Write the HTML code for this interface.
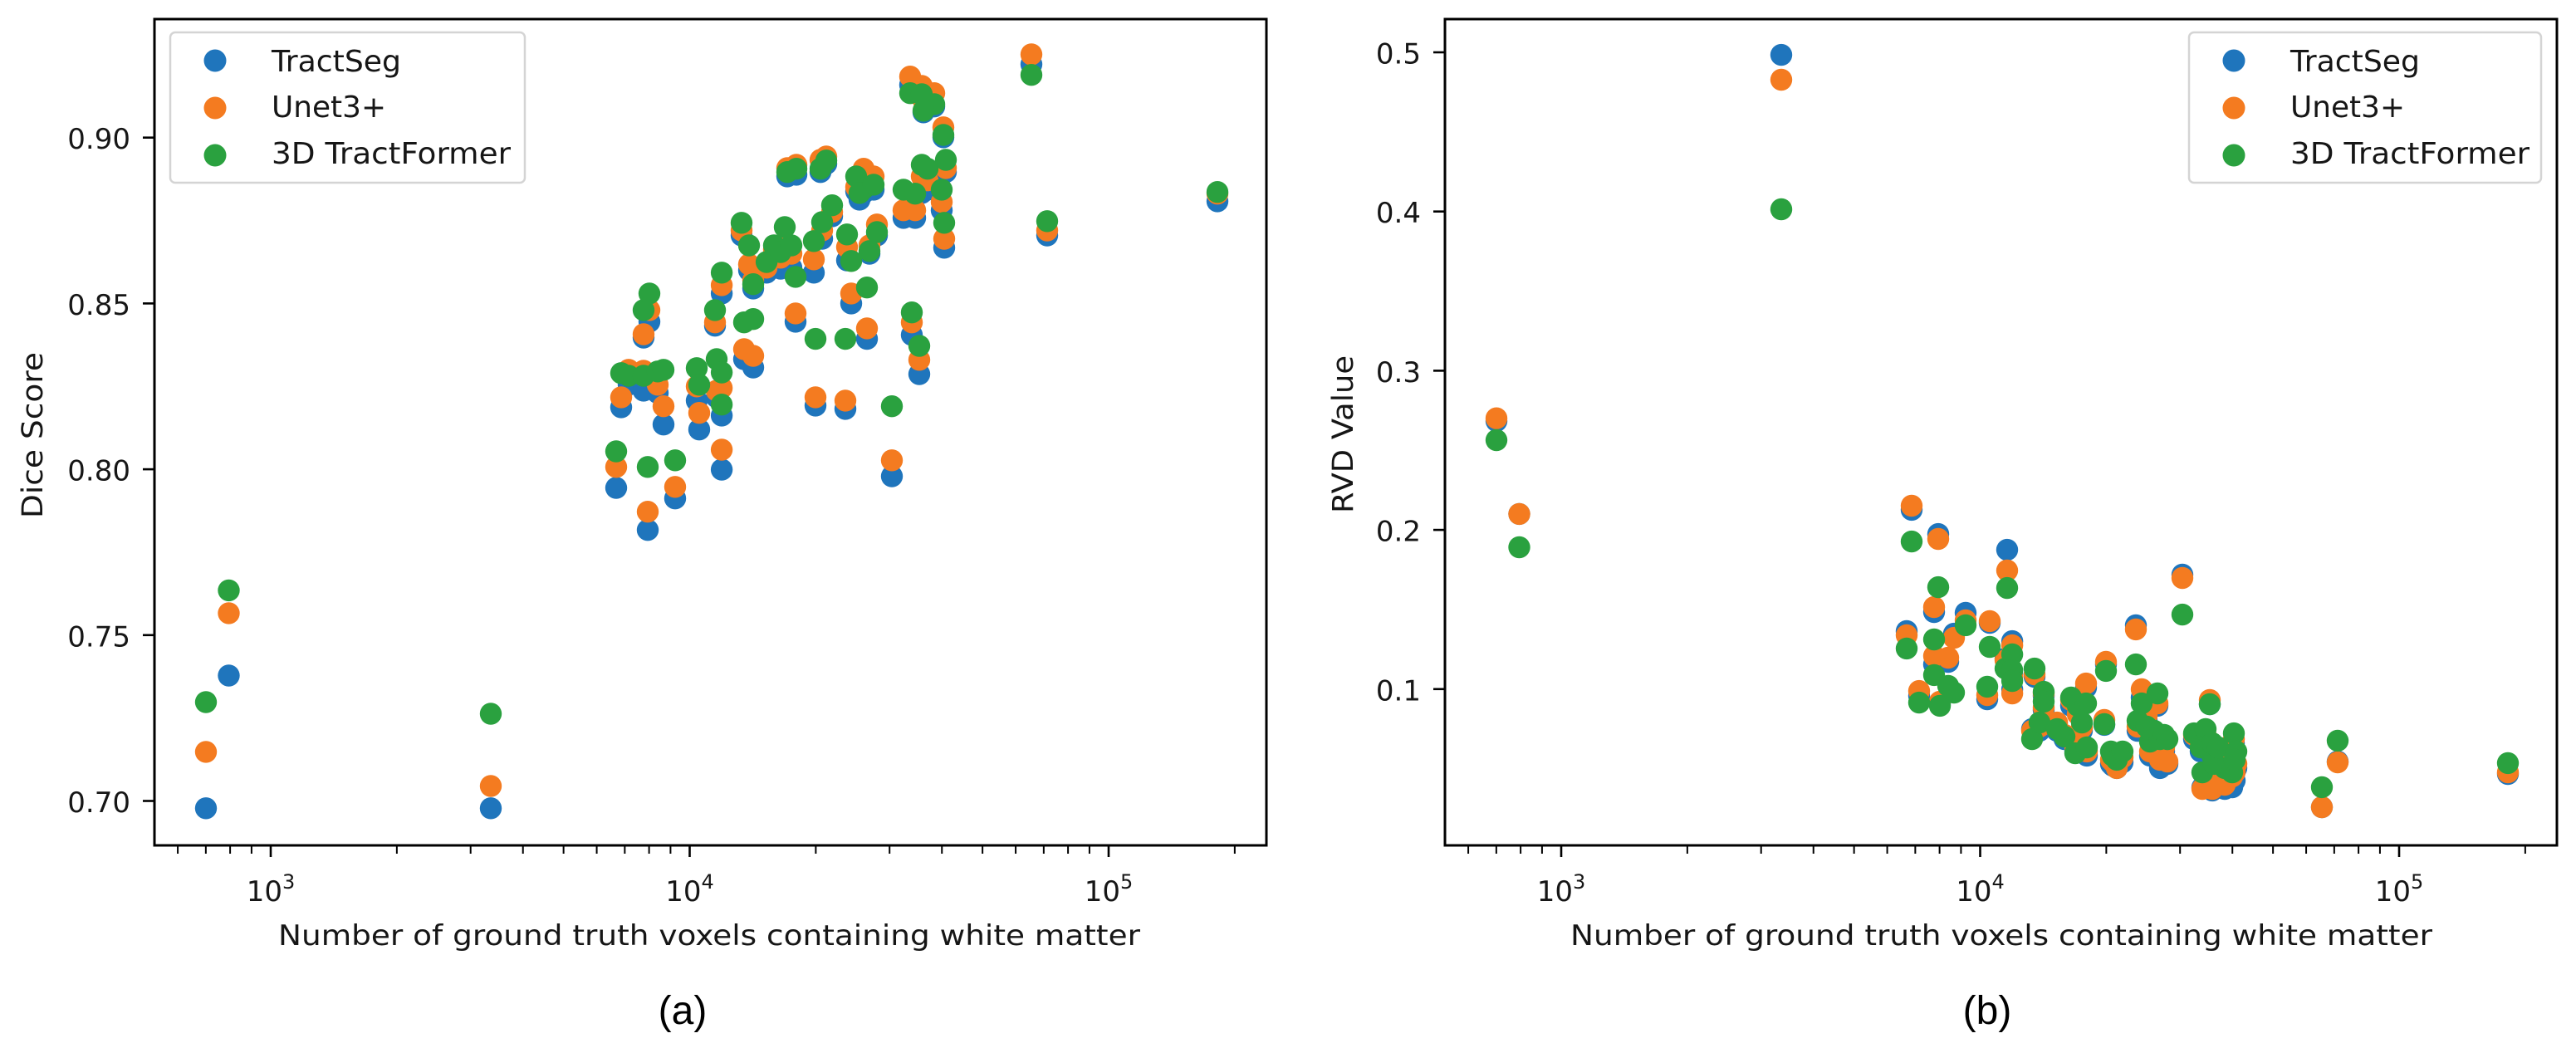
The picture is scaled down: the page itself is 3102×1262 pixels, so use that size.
<!DOCTYPE html>
<html lang="en">
<head>
<meta charset="utf-8">
<title>Dice Score and RVD Value against ground truth voxels</title>
<style>
html,body{margin:0;padding:0;background:#fff;}
svg{display:block;}
text{font-family:"DejaVu Sans","Liberation Sans",sans-serif;fill:#161616;}
.caption{font-family:"Liberation Sans",sans-serif;font-size:48px;fill:#000;}
</style>
</head>
<body>
<svg id="figure" xmlns="http://www.w3.org/2000/svg" width="3102" height="1262" viewBox="0 0 3102 1262">
  <rect x="0" y="0" width="3102" height="1262" fill="#ffffff"/>
  <g id="panel-a"></g>
  <g id="panel-b"></g>
  <text class="caption" x="822" y="1233" text-anchor="middle">(a)</text>
  <text class="caption" x="2393" y="1233" text-anchor="middle">(b)</text>
</svg>
<script>
const voxels = [700.6,794,3352,6677,6863,7151,7762,7942,8388,8661,9233,10397,10539,11600,11495,11924,11924,11924,13303,13860,14180,13484,14180,15257,15893,16482,16866,17098,17977,17894,17490,19785,19967,20521,20712,21190,21878,23534,23751,24298,24973,26020,25429,26499,26860,27484,27990,30388,32384,34530,33900,35320,33590,35810,38350,36140,40320,35810,36980,40880,39960,40500,65420,71340,181800,7762,8015];

const diceTractSeg = [.6978,.7378,.6978,.7944,.8187,.8255,.8237,.7817,.8230,.8135,.7912,.8207,.8120,.8217,.8433,.8162,.8530,.7999,.8705,.8600,.8545,.8332,.8307,.8593,.8613,.8605,.8625,.8883,.8888,.8445,.8608,.8593,.8192,.8896,.8695,.8921,.8763,.8182,.8630,.8500,.8838,.8833,.8813,.8393,.8650,.8843,.8705,.7979,.8758,.8758,.8405,.8287,.9159,.9126,.9094,.9076,.9001,.8833,.8843,.8896,.8781,.8668,.9221,.8705,.8808,.8397,.8445];
const diceUnet = [.7148,.7566,.7045,.8007,.8217,.8300,.8297,.7872,.8255,.8190,.7947,.8250,.8170,.8237,.8443,.8245,.8555,.8059,.8720,.8618,.8570,.8362,.8342,.8608,.8663,.8638,.8675,.8908,.8918,.8470,.8650,.8633,.8217,.8933,.8720,.8943,.8776,.8207,.8670,.8530,.8851,.8906,.8851,.8425,.8675,.8883,.8738,.8027,.8781,.8781,.8443,.8330,.9184,.9156,.9134,.9113,.9031,.8883,.8871,.8908,.8806,.8695,.9251,.8720,.8831,.8407,.8480];
const diceTractFormer = [.7298,.7635,.7263,.8054,.8290,.8282,.8282,.8007,.8295,.8300,.8027,.8305,.8255,.8332,.8480,.8195,.8593,.8292,.8743,.8675,.8558,.8443,.8453,.8625,.8675,.8655,.8730,.8896,.8906,.8580,.8675,.8688,.8393,.8906,.8745,.8931,.8796,.8393,.8708,.8628,.8883,.8846,.8833,.8548,.8658,.8858,.8715,.8190,.8843,.8831,.8473,.8372,.9134,.9131,.9101,.9081,.9008,.8918,.8906,.8933,.8843,.8743,.9189,.8748,.8836,.8480,.8530];

const rvdTractSeg = [.2684,.2100,.4984,.1364,.2126,.0957,.1484,.1974,.1171,.1348,.1479,.0936,.1416,.1875,.1192,.1301,.1093,.0999,.0749,.0738,.0957,.1077,.0868,.0738,.0686,.0895,.0608,.0868,.0582,.1009,.0738,.0775,.1155,.0530,.0519,.0504,.0540,.1401,.0738,.0947,.0801,.0634,.0582,.0895,.0504,.0608,.0530,.1719,.0686,.0696,.0383,.0905,.0608,.0363,.0373,.0373,.0660,.0582,.0582,.0504,.0383,.0425,.0258,.0545,.0467,.1155,.0905];
const rvdUnet = [.2701,.2100,.4828,.1338,.2152,.0988,.1515,.1943,.1197,.1322,.1432,.0962,.1427,.1745,.1181,.1275,.1077,.0973,.0738,.0764,.0973,.1093,.0884,.0790,.0712,.0931,.0634,.0842,.0608,.1035,.0759,.0806,.1171,.0556,.0545,.0504,.0571,.1375,.0764,.0999,.0832,.0686,.0608,.0910,.0556,.0634,.0545,.1698,.0712,.0712,.0373,.0931,.0686,.0373,.0399,.0399,.0686,.0608,.0608,.0530,.0451,.0477,.0258,.0540,.0477,.1208,.0921];
const rvdTractFormer = [.2564,.1891,.4014,.1255,.1927,.0915,.1312,.1640,.1020,.0978,.1401,.1015,.1265,.1635,.1129,.1218,.1119,.1051,.0686,.0790,.0983,.1129,.0921,.0749,.0702,.0947,.0597,.0895,.0634,.0910,.0790,.0780,.1114,.0608,.0582,.0556,.0608,.1155,.0801,.0910,.0764,.0738,.0670,.0973,.0686,.0712,.0686,.1468,.0722,.0749,.0477,.0905,.0634,.0582,.0504,.0530,.0722,.0660,.0634,.0608,.0477,.0556,.0384,.0676,.0535,.1088,.0895];

const seriesNames = ['TractSeg','Unet3+','3D TractFormer'];
const diceTicks = ['0.70','0.75','0.80','0.85','0.90'];
const rvdTicks = ['0.1','0.2','0.3','0.4','0.5'];
const majorExponents = [3,4,5];
const minorVoxels = [600,700,800,900,2000,3000,4000,5000,6000,7000,8000,9000,20000,30000,40000,50000,60000,70000,80000,90000,200000];

const SVG_NS = 'http://www.w3.org/2000/svg';
const seriesColors = ['#1f75bc','#f47b20','#2aa13f'];
const TOP = 23, BOTTOM = 1018;

function make(parent, tag, attrs, text) {
  const el = document.createElementNS(SVG_NS, tag);
  for (const k in attrs) el.setAttribute(k, attrs[k]);
  if (text !== undefined) el.textContent = text;
  parent.appendChild(el);
  return el;
}

function drawPanel(cfg) {
  const g = document.getElementById(cfg.groupId);
  const xScale = v => cfg.xOrigin + 504.5 * (Math.log10(v) - 3);
  const yScale = cfg.yScale;

  const marks = make(g, 'g', {});
  
  
  cfg.series.forEach((values, s) => {
    values.forEach((v, i) => {
      const c = make(marks, 'circle', {cx: xScale(voxels[i]).toFixed(1), cy: yScale(v).toFixed(1), r: 13.2, fill: seriesColors[s]});
      
      
    });
  });

  const frame = make(g, 'rect', {x: cfg.left, y: TOP, width: cfg.right - cfg.left, height: BOTTOM - TOP, fill: 'none', stroke: '#000', 'stroke-width': 3});
  
  

  minorVoxels.forEach(v => {
    const x = xScale(v);
    const t = make(g, 'line', {x1: x, x2: x, y1: BOTTOM, y2: BOTTOM + 10, stroke: '#000', 'stroke-width': 2});
    
    
  });
  majorExponents.forEach(e => {
    const x = xScale(Math.pow(10, e));
    const t = make(g, 'line', {x1: x, x2: x, y1: BOTTOM, y2: BOTTOM + 14, stroke: '#000', 'stroke-width': 2.6});
    
    
    const lab = make(g, 'text', {x: x, y: 1085, 'text-anchor': 'middle', 'font-size': 34});
    
    
    make(lab, 'tspan', {}, '10');
    make(lab, 'tspan', {dy: -15, 'font-size': 24}, String(e));
  });
  cfg.ticks.forEach(label => {
    const y = yScale(parseFloat(label));
    const t = make(g, 'line', {x1: cfg.left - 14, x2: cfg.left, y1: y, y2: y, stroke: '#000', 'stroke-width': 2.6});
    
    
    const lab = make(g, 'text', {x: cfg.left - 29, y: y + 13.5, 'text-anchor': 'end', 'font-size': 34}, label);
    
    
  });

  const xt = make(g, 'text', {x: cfg.xLabelX, y: 1138, 'font-size': 34, textLength: 1038, lengthAdjust: 'spacingAndGlyphs'}, 'Number of ground truth voxels containing white matter');
  
  

  const yt = make(g, 'text', {transform: 'translate(' + cfg.yLabelX + ' ' + cfg.yLabelY + ') rotate(-90)', 'text-anchor': 'middle', 'font-size': 35, textLength: cfg.yTitleLength, lengthAdjust: 'spacingAndGlyphs'}, cfg.yTitle);
  
  

  const legend = make(g, 'g', {});
  
  
  const box = make(legend, 'rect', {x: cfg.legendX, y: 39, width: cfg.legendW, height: 181, rx: 6, ry: 6, fill: '#fff', stroke: '#d4d4d4', 'stroke-width': 2.5});
  
  
  const rowY = [73, 130, 187];
  const baseY = [86, 141, 197];
  const widths = [156, 138, 288];
  seriesNames.forEach((name, i) => {
    const m = make(legend, 'circle', {cx: cfg.legendX + 54, cy: rowY[i], r: 13.5, fill: seriesColors[i]});
    
    
    const tx = make(legend, 'text', {x: cfg.legendX + 122, y: baseY[i], 'font-size': 36, textLength: widths[i], lengthAdjust: 'spacingAndGlyphs'}, name);
    
    
  });
}

drawPanel({
  groupId: 'panel-a', left: 186, right: 1525, xOrigin: 326,
  yScale: v => 165.7 + (0.9 - v) * 3994,
  series: [diceTractSeg, diceUnet, diceTractFormer],
  ticks: diceTicks, yTitle: 'Dice Score', yTitleLength: 200,
  xLabelX: 335, yLabelX: 51, yLabelY: 524,
  legendX: 205, legendW: 427
});
drawPanel({
  groupId: 'panel-b', left: 1740, right: 3079, xOrigin: 1880,
  yScale: v => 63 + (0.5 - v) * 1917,
  series: [rvdTractSeg, rvdUnet, rvdTractFormer],
  ticks: rvdTicks, yTitle: 'RVD Value', yTitleLength: 190,
  xLabelX: 1891, yLabelX: 1629, yLabelY: 523,
  legendX: 2636, legendW: 424
});
</script>
</body>
</html>
